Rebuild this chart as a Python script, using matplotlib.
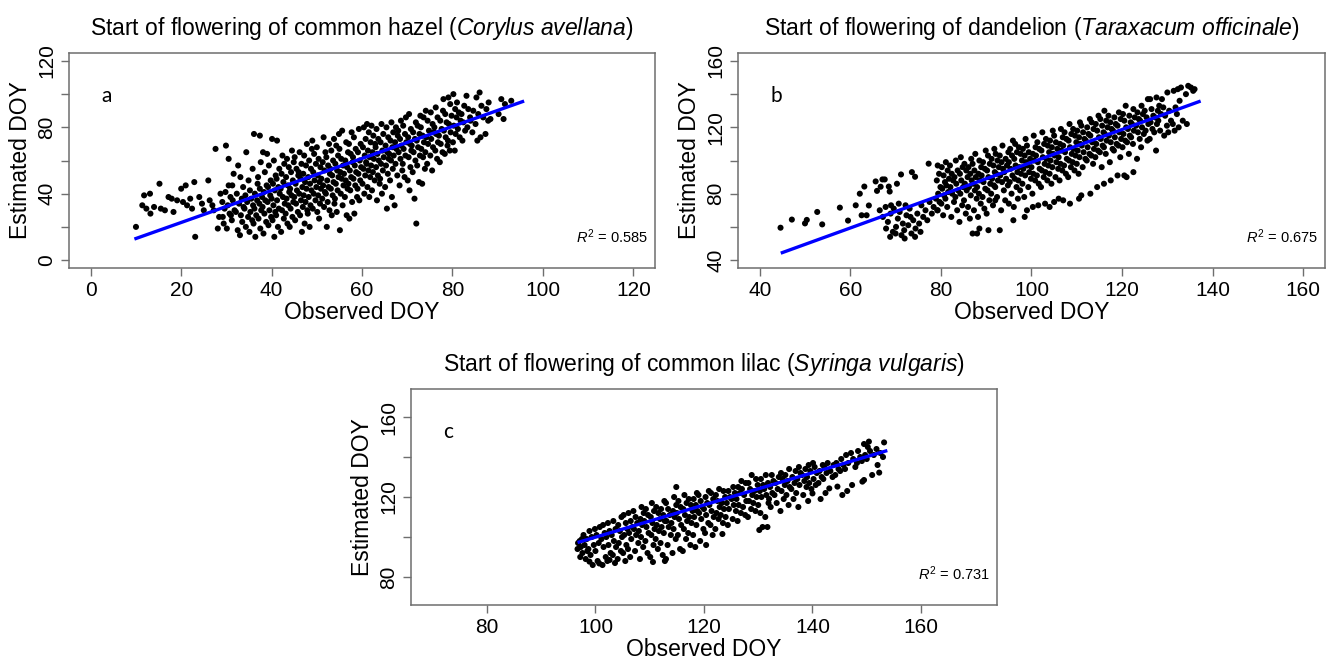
import numpy as np
import matplotlib.pyplot as plt

plt.rcParams['font.family'] = ['Liberation Sans', 'DejaVu Sans']
plt.rcParams['mathtext.fontset'] = 'custom'
plt.rcParams['mathtext.rm'] = 'Liberation Sans'
plt.rcParams['mathtext.it'] = 'Liberation Sans:italic'

# === Data (observed DOY, estimated DOY) ===
hazel_pts = [
    (10,20),(11.4,33),(11.8,39),(12.3,31),(13.1,40),(13.2,28),(14.0,32),(15.2,46),(15.5,31),(16.4,30),
    (17.2,38),(17.9,37),(18.3,29),(19.1,36),(20.0,43),(20.4,35),(21.0,45),(21.3,33),(22.0,37),(22.4,31),
    (22.9,47),(23.1,14),(24.0,38),(24.6,34),(25.0,30),(26.0,48),(26.3,36),(26.9,33),(27.2,30),(27.6,67),
    (28.1,19),(28.4,26),(28.7,40),(29.9,69),(30.5,61),(37.4,75),(39.0,64),(41.2,72),
    (29.2,26),(29.6,31),(29.1,35),(29.8,41),(29.4,22),
    (30.1,19),(30.7,28),(30.3,33),(30.9,38),(30.5,45),
    (31.2,24),(31.8,30),(31.4,36),(31.0,27),(31.6,52),(31.3,45),
    (32.5,18),(32.1,29),(32.8,34),(32.3,40),(32.6,57),
    (33.0,15),(33.5,23),(33.2,27),(33.8,32),(33.4,37),(33.7,44),(33.1,50),
    (34.3,20),(34.8,26),(34.0,31),(34.6,35),(34.2,39),(34.9,48),(34.4,65),
    (35.1,17),(35.7,24),(35.3,29),(35.9,33),(35.5,37),(35.2,42),(35.8,55),
    (36.4,14),(36.0,22),(36.6,27),(36.2,31),(36.8,36),(36.3,40),(36.9,46),(36.1,76),
    (37.5,19),(37.1,25),(37.7,30),(37.3,34),(37.9,38),(37.4,43),(37.0,50),(37.6,59),
    (38.2,16),(38.8,23),(38.4,28),(38.0,32),(38.6,36),(38.3,41),(38.9,45),(38.5,53),(38.1,65),
    (39.3,21),(39.9,26),(39.5,30),(39.1,35),(39.7,39),(39.2,44),(39.8,48),(39.4,57),
    (40.6,14),(40.2,24),(40.8,29),(40.4,33),(40.0,37),(40.7,42),(40.3,46),(40.9,51),(40.5,60),(40.1,73),
    (41.4,20),(41.0,27),(41.6,31),(41.2,36),(41.8,40),(41.5,44),(41.1,49),(41.7,55),
    (42.1,17),(42.7,25),(42.3,30),(42.9,34),(42.5,38),(42.0,43),(42.6,47),(42.2,52),(42.8,58),(42.4,63),
    (43.5,22),(43.1,28),(43.7,33),(43.3,37),(43.9,41),(43.6,45),(43.2,50),(43.8,56),(43.4,61),
    (44.0,20),(44.6,26),(44.2,31),(44.8,35),(44.4,39),(44.1,43),(44.7,48),(44.3,53),(44.9,59),(44.5,66),
    (45.2,24),(45.8,29),(45.4,34),(45.0,38),(45.6,42),(45.3,46),(45.9,51),(45.5,55),(45.1,62),
    (46.7,17),(46.3,27),(46.9,32),(46.5,36),(46.1,40),(46.8,44),(46.4,49),(46.0,53),(46.6,58),(46.2,65),
    (47.3,22),(47.9,30),(47.5,35),(47.1,39),(47.7,43),(47.4,47),(47.0,52),(47.6,57),(47.2,63),(47.8,70),
    (48.4,20),(48.0,28),(48.6,33),(48.2,38),(48.8,42),(48.5,46),(48.1,50),(48.7,55),(48.3,60),(48.9,67),
    (49.1,31),(49.7,36),(49.3,40),(49.9,44),(49.5,48),(49.2,53),(49.8,58),(49.4,64),(49.0,72),
    (50.5,25),(50.1,29),(50.7,34),(50.3,39),(50.9,43),(50.6,47),(50.2,51),(50.8,56),(50.4,61),(50.0,68),
    (51.6,32),(51.2,37),(51.8,41),(51.4,45),(51.0,49),(51.7,54),(51.3,59),(51.9,65),(51.5,74),
    (52.2,20),(52.8,30),(52.4,35),(52.0,40),(52.6,44),(52.3,48),(52.9,52),(52.5,57),(52.1,62),(52.7,70),
    (53.3,27),(53.9,34),(53.5,39),(53.1,43),(53.7,47),(53.4,51),(53.0,55),(53.6,60),(53.2,66),(53.8,73),
    (54.4,29),(54.0,37),(54.6,42),(54.2,46),(54.8,50),(54.5,54),(54.1,58),(54.7,63),(54.3,69),(54.9,76),
    (55.1,18),(55.7,33),(55.3,40),(55.9,45),(55.5,49),(55.2,53),(55.8,57),(55.4,61),(55.0,67),(55.6,78),
    (56.6,27),(56.2,38),(56.8,43),(56.4,48),(56.0,52),(56.7,56),(56.3,60),(56.9,65),(56.5,71),
    (57.2,25),(57.8,35),(57.4,42),(57.0,46),(57.6,50),(57.3,54),(57.9,59),(57.5,64),(57.1,70),(57.7,77),
    (58.3,28),(58.9,38),(58.5,45),(58.1,49),(58.7,53),(58.4,57),(58.0,62),(58.6,67),(58.2,74),
    (59.4,36),(59.0,43),(59.6,48),(59.2,52),(59.8,56),(59.5,60),(59.1,65),(59.7,70),(59.3,79),
    (60.5,40),(60.1,46),(60.7,51),(60.3,55),(60.9,59),(60.6,63),(60.2,68),(60.8,73),(60.4,80),
    (61.6,38),(61.2,44),(61.8,50),(61.4,54),(61.0,58),(61.7,62),(61.3,66),(61.9,71),(61.5,77),(61.1,82),
    (62.2,42),(62.8,48),(62.4,53),(62.0,57),(62.6,61),(62.3,65),(62.9,70),(62.5,75),(62.1,81),
    (63.3,36),(63.9,46),(63.5,51),(63.1,56),(63.7,60),(63.4,64),(63.0,68),(63.6,73),(63.2,79),
    (64.4,40),(64.0,49),(64.6,54),(64.2,58),(64.8,62),(64.5,66),(64.1,71),(64.7,76),(64.3,82),
    (65.5,31),(65.1,44),(65.7,52),(65.3,57),(65.9,61),(65.6,65),(65.2,69),(65.8,74),(65.4,80),
    (66.6,38),(66.2,48),(66.8,55),(66.4,60),(66.0,64),(66.7,68),(66.3,72),(66.9,77),(66.5,83),
    (67.2,33),(67.8,51),(67.4,58),(67.0,63),(67.6,67),(67.3,71),(67.9,75),(67.5,80),
    (68.3,45),(68.9,54),(68.5,61),(68.1,65),(68.7,69),(68.4,73),(68.0,78),(68.6,84),
    (69.4,50),(69.0,58),(69.6,63),(69.2,67),(69.8,71),(69.5,76),(69.1,81),(69.7,86),
    (70.5,42),(70.1,48),(70.7,56),(70.3,62),(70.9,66),(70.6,70),(70.2,74),(70.8,79),(70.4,88),
    (71.6,37),(71.2,53),(71.8,60),(71.4,65),(71.0,69),(71.7,73),(71.3,77),(71.9,83),
    (72.0,22),(72.6,47),(72.2,57),(72.8,63),(72.4,68),(72.1,72),(72.7,76),(72.3,81),(72.9,87),
    (73.3,46),(73.9,55),(73.5,62),(73.1,67),(73.7,71),(73.4,75),(73.0,80),(73.6,86),
    (74.4,58),(74.0,65),(74.6,70),(74.2,74),(74.8,78),(74.5,84),(74.1,90),
    (75.5,54),(75.1,63),(75.7,68),(75.3,73),(75.9,77),(75.6,82),(75.2,89),
    (76.6,61),(76.2,66),(76.8,71),(76.4,76),(76.0,80),(76.7,86),(76.3,92),
    (77.2,59),(77.8,65),(77.4,70),(77.0,75),(77.6,79),(77.3,84),(77.9,90),
    (78.3,64),(78.9,69),(78.5,74),(78.1,78),(78.7,83),(78.4,88),(78.0,97),
    (79.4,66),(79.0,72),(79.6,77),(79.2,82),(79.8,87),(79.5,94),(79.1,98),
    (80.5,66),(80.1,71),(80.7,76),(80.3,81),(80.9,86),(80.6,91),(80.2,100),
    (81.6,74),(81.2,79),(81.8,84),(81.4,89),(81.0,95),
    (82.2,72),(82.8,78),(82.4,83),(82.0,88),(82.6,93),
    (83.3,80),(83.9,86),(83.5,91),(83.1,99),
    (84.4,77),(84.0,84),(84.6,90),
    (85.5,72),(85.1,82),(85.7,88),(85.3,98),
    (86.2,74),(86.8,86),(86.4,93),(86.0,101),
    (87.3,76),(87.9,84),(87.5,91),
    (88.4,85),(88.0,95),(90.2,88),(90.8,97),(91.3,85),(91.6,94),(93.0,96),
]
hazel_fit_x = [10, 95.5]
hazel_fit_y = [13, 95.5]

dandelion_pts = [
    (44.6,59.5),(47.1,64.4),(50.0,62.1),(50.4,64.2),(52.7,69),(53.8,61.5),(57.7,71.6),(59.5,63.8),
    (61.2,73),(62.1,80),(63.1,84.3),(62.5,67),(63.6,67),(64.1,72.9),(65.6,87.4),(67.1,88.6),(67.6,88.6),
    (66.7,84.2),(65.9,81.7),(68.5,84.3),(68.7,81.3),(70.3,86),(71.2,91.6),(73.6,93),(74.3,90.2),
    (77.3,98.1),(68.8,54),(74.3,54),
    (66.5,70),(67.2,66),(67.8,72),(68.3,63),(68.9,68),(69.4,57),(69.6,71),(70.1,60),(70.5,65),(70.9,69),
    (71.3,55),(71.6,62),(71.9,58),(72.4,67),(72.8,61),(73.1,71),(73.5,56),(73.9,64),(74.4,59),(74.8,68),
    (75.2,62),(75.7,73),(76.1,66),(76.6,70),(77.0,64),(77.5,75),(78.0,68),(78.4,72),(78.9,77),(79.3,70),
    (69.0,73),(70.7,74),(72.2,73),(67.9,59),(70.0,56),(72.0,53),(73.3,66),(75.5,57),
    (87,56),(88,56),(88.5,59),(90.5,58),(93,58),(96,64),(98.5,66),(99,70),(100.3,72),(101.5,73),
    (103,74),(105,75),(107,76),(108.5,74),(110.5,77),(111,79),(113,80),(114.5,84),(116,86),(117.5,88),
    (119,91),(120.5,91),(122.5,93),(121,90),(104,72),(106,77),(97,77),(95,74),(92,76),
    (79.2,70),(79.7,75),(79.4,80),(79.9,84),(79.1,88),(79.6,92),(79.3,97),
    (80.5,67),(80.1,74),(80.7,79),(80.3,83),(80.9,87),(80.6,91),(80.2,96),
    (81.4,72),(81.0,77),(81.6,81),(81.2,85),(81.8,89),(81.5,94),(81.1,99),
    (82.3,66),(82.9,75),(82.5,80),(82.1,84),(82.7,88),(82.4,92),(82.0,97),
    (83.6,70),(83.2,78),(83.8,82),(83.4,86),(83.0,90),(83.7,94),(83.3,100),
    (84.1,63),(84.7,73),(84.3,80),(84.9,84),(84.5,88),(84.2,92),(84.8,96),(84.4,102),
    (85.5,68),(85.1,76),(85.7,82),(85.3,86),(85.9,90),(85.6,94),(85.2,98),
    (86.4,65),(86.0,72),(86.6,79),(86.2,84),(86.8,88),(86.5,92),(86.1,96),(86.7,101),
    (87.3,70),(87.9,77),(87.5,82),(87.1,86),(87.7,90),(87.4,94),(87.0,98),(87.6,104),
    (88.2,66),(88.8,74),(88.4,80),(88.0,84),(88.6,88),(88.3,92),(88.9,96),(88.5,100),
    (89.6,71),(89.2,78),(89.8,83),(89.4,87),(89.0,91),(89.7,95),(89.3,99),(89.9,106),
    (90.1,68),(90.7,76),(90.3,82),(90.9,86),(90.5,90),(90.2,94),(90.8,98),(90.4,103),
    (91.5,73),(91.1,80),(91.7,85),(91.3,89),(91.9,93),(91.6,97),(91.2,101),(91.8,107),
    (92.4,78),(92.0,84),(92.6,88),(92.2,92),(92.8,96),(92.5,100),(92.1,104),
    (93.3,70),(93.9,82),(93.5,87),(93.1,91),(93.7,95),(93.4,99),(93.0,103),(93.6,109),
    (94.2,76),(94.8,85),(94.4,89),(94.0,93),(94.6,97),(94.3,101),(94.9,105),
    (95.6,80),(95.2,87),(95.8,91),(95.4,95),(95.0,99),(95.7,103),(95.3,107),(95.9,112),
    (96.1,72),(96.7,84),(96.3,89),(96.9,93),(96.5,97),(96.2,101),(96.8,105),(96.4,110),
    (97.5,82),(97.1,88),(97.7,92),(97.3,96),(97.9,100),(97.6,104),(97.2,108),
    (98.4,78),(98.0,86),(98.6,91),(98.2,95),(98.8,99),(98.5,103),(98.1,107),(98.7,113),
    (99.3,84),(99.9,89),(99.5,93),(99.1,97),(99.7,101),(99.4,105),(99.0,109),
    (100.2,80),(100.8,88),(100.4,92),(100.0,96),(100.6,100),(100.3,104),(100.9,108),(100.5,115),
    (101.6,86),(101.2,91),(101.8,95),(101.4,99),(101.0,103),(101.7,107),(101.3,111),
    (102.1,84),(102.7,90),(102.3,94),(102.9,98),(102.5,102),(102.2,106),(102.8,110),(102.4,117),
    (103.5,88),(103.1,93),(103.7,97),(103.3,101),(103.9,105),(103.6,109),(103.2,113),
    (104.4,86),(104.0,92),(104.6,96),(104.2,100),(104.8,104),(104.5,108),(104.1,112),(104.7,118),
    (105.3,90),(105.9,95),(105.5,99),(105.1,103),(105.7,107),(105.4,111),(105.0,115),
    (106.2,88),(106.8,94),(106.4,98),(106.0,102),(106.6,106),(106.3,110),(106.9,114),(106.5,119),
    (107.6,92),(107.2,97),(107.8,101),(107.4,105),(107.0,109),(107.7,113),(107.3,117),
    (108.1,90),(108.7,96),(108.3,100),(108.9,104),(108.5,108),(108.2,112),(108.8,116),(108.4,122),
    (109.5,94),(109.1,99),(109.7,103),(109.3,107),(109.9,111),(109.6,115),(109.2,119),
    (110.4,92),(110.0,98),(110.6,102),(110.2,106),(110.8,110),(110.5,114),(110.1,118),(110.7,123),
    (111.3,96),(111.9,101),(111.5,105),(111.1,109),(111.7,113),(111.4,117),(111.0,121),
    (112.2,100),(112.8,104),(112.4,108),(112.0,112),(112.6,116),(112.3,120),(112.9,125),
    (113.6,98),(113.2,103),(113.8,107),(113.4,111),(113.0,115),(113.7,119),(113.3,123),
    (114.1,102),(114.7,106),(114.3,110),(114.9,114),(114.5,118),(114.2,122),(114.8,127),
    (115.5,96),(115.1,105),(115.7,109),(115.3,113),(115.9,117),(115.6,121),(115.2,125),
    (116.4,104),(116.0,108),(116.6,112),(116.2,116),(116.8,120),(116.5,124),(116.1,130),
    (117.3,99),(117.9,107),(117.5,111),(117.1,115),(117.7,119),(117.4,123),(117.0,127),
    (118.2,106),(118.8,110),(118.4,114),(118.0,118),(118.6,122),(118.3,126),
    (119.6,102),(119.2,109),(119.8,113),(119.4,117),(119.0,121),(119.7,125),(119.3,129),
    (120.1,108),(120.7,112),(120.3,116),(120.9,120),(120.5,124),(120.2,128),(120.8,133),
    (121.5,104),(121.1,111),(121.7,115),(121.3,119),(121.9,123),(121.6,127),
    (122.4,110),(122.0,114),(122.6,118),(122.2,122),(122.8,126),(122.5,131),
    (123.3,101),(123.9,113),(123.5,117),(123.1,121),(123.7,125),(123.4,129),
    (124.2,108),(124.8,116),(124.4,120),(124.0,124),(124.6,128),(124.3,133),
    (125.6,112),(125.2,118),(125.8,122),(125.4,126),(125.0,130),(125.7,137),
    (126.1,113),(126.7,119),(126.3,123),(126.9,127),(126.5,131),(126.2,137),
    (127.5,106),(127.1,117),(127.7,122),(127.3,126),(127.9,130),(127.6,138),
    (128.4,118),(128.0,124),(128.6,128),(128.2,133),(128.8,137),
    (129.3,115),(129.9,121),(129.5,127),(129.1,132),
    (130.2,117),(130.8,124),(130.4,130),(130.0,141),
    (131.6,118),(131.2,122),(131.8,132),(131.4,142),
    (132.5,120),(132.1,128),(132.7,136),(132.3,143),
    (133.4,124),(133.0,144),(134.3,122),(134.6,145),(134.1,140),(135.2,144),(135.7,142),(136.0,143),
]
dandelion_fit_x = [45, 137]
dandelion_fit_y = [44.5, 135.5]

lilac_pts = [
    (96.7,94),(97.6,92),(98.9,87.7),(100.7,86.8),(102.6,88.5),(97.2,90),(98.0,96),(97.5,99),(96.8,97),
    (98.5,93),(110.6,87.5),(112.8,88),
    (97.3,95),(97.8,101),(97.1,98),
    (98.2,89),(98.7,94),(98.4,99),(98.9,103),
    (99.5,86),(99.1,91),(99.7,96),(99.3,100),(99.9,104),
    (100.4,88),(100.0,93),(100.6,97),(100.2,101),(100.8,105),
    (101.3,86),(101.9,90),(101.5,95),(101.1,99),(101.7,102),(101.4,106),
    (102.2,88),(102.8,92),(102.4,96),(102.0,100),(102.6,103),(102.3,107),
    (103.6,87),(103.2,91),(103.8,95),(103.4,98),(103.0,101),(103.7,104),(103.3,108),
    (104.1,89),(104.7,93),(104.3,97),(104.9,100),(104.5,103),(104.2,106),(104.8,110),
    (105.5,88),(105.1,92),(105.7,96),(105.3,101),(105.9,104),(105.6,107),(105.2,111),
    (106.4,90),(106.0,94),(106.6,99),(106.2,102),(106.8,105),(106.5,108),(106.1,112),
    (107.3,93),(107.9,97),(107.5,101),(107.1,104),(107.7,107),(107.4,110),(107.0,113),
    (108.2,89),(108.8,95),(108.4,100),(108.0,103),(108.6,106),(108.3,109),(108.9,112),(108.5,115),
    (109.6,92),(109.2,98),(109.8,102),(109.4,105),(109.0,108),(109.7,111),(109.3,114),
    (110.1,90),(110.7,96),(110.3,101),(110.9,104),(110.5,107),(110.2,110),(110.8,113),(110.4,117),
    (111.5,94),(111.1,99),(111.7,103),(111.3,106),(111.9,109),(111.6,112),(111.2,115),
    (112.4,91),(112.0,97),(112.6,102),(112.2,105),(112.8,108),(112.5,111),(112.1,114),(112.7,118),
    (113.0,89),(113.3,96),(113.9,101),(113.5,105),(113.1,108),(113.7,111),(113.4,114),(113.0,117),
    (114.2,92),(114.8,99),(114.4,104),(114.0,107),(114.6,110),(114.3,113),(114.9,116),(114.5,120),
    (115.6,94),(115.2,101),(115.8,106),(115.4,109),(115.0,112),(115.7,115),(115.3,118),(114.9,125),
    (116.1,93),(116.7,99),(116.3,104),(116.9,108),(116.5,111),(116.2,114),(116.8,117),(116.4,121),
    (117.5,96),(117.1,102),(117.7,107),(117.3,110),(117.9,113),(117.6,116),(117.2,119),
    (118.4,95),(118.0,101),(118.6,106),(118.2,110),(118.8,113),(118.5,116),(118.1,119),(118.7,122),
    (119.3,98),(119.9,104),(119.5,109),(119.1,112),(119.7,115),(119.4,118),(119.0,121),
    (120.4,96),(120.2,102),(120.8,107),(120.4,111),(120.0,114),(120.6,117),(120.3,120),(120.9,123),
    (121.6,101),(121.2,106),(121.8,110),(121.4,113),(121.0,116),(121.7,119),(121.3,122),
    (122.1,104),(122.7,109),(122.3,112),(122.9,115),(122.5,118),(122.2,121),(122.8,124),
    (123.4,101.5),(123.5,107),(123.1,111),(123.7,114),(123.3,117),(123.9,120),(123.6,123),
    (124.4,106),(124.0,110),(124.6,114),(124.2,117),(124.8,120),(124.5,123),
    (125.3,109),(125.9,113),(125.5,116),(125.1,119),(125.7,122),(125.4,125),
    (126.2,108),(126.8,112),(126.4,116),(126.0,119),(126.6,122),(126.3,125),(126.9,128),
    (127.6,111),(127.2,115),(127.8,118),(127.4,121),(127.0,124),(127.7,127),
    (128.1,110),(128.7,114),(128.3,118),(128.9,121),(128.5,124),(128.2,127),(128.8,131),
    (129.5,113),(129.1,117),(129.7,120),(129.3,123),(129.9,126),(129.6,129),
    (130.2,103.5),(130.8,105),(130.4,112),(130.0,116),(130.6,120),(130.3,123),(130.9,126),(130.5,129),
    (131.7,105),(131.3,110),(131.9,117),(131.5,121),(131.1,124),(131.8,127),(131.4,131),
    (132.3,115),(132.0,119),(132.6,122),(132.2,125),(132.8,128),(132.5,131),
    (133.4,117),(133.0,121),(133.6,124),(133.2,127),(133.8,130),
    (134.1,113),(134.7,119),(134.3,123),(134.9,126),(134.5,129),(134.2,132),
    (135.6,116),(135.2,121),(135.8,125),(135.4,128),(135.0,131),(135.7,134),
    (136.5,119),(136.1,124),(136.7,127),(136.3,130),(136.9,133),
    (137.4,115),(137.0,122),(137.6,126),(137.2,129),(137.8,132),(137.5,135),
    (138.3,121),(138.9,125),(138.5,128),(138.1,131),(138.7,134),
    (139.2,118),(139.8,124),(139.4,127),(139.0,130),(139.6,133),(139.3,136),
    (140.0,121.8),(140.6,126),(140.2,129),(140.8,132),(140.4,135),(140.1,137),
    (141.5,119),(141.1,127),(141.7,130),(141.3,133),(141.9,136),
    (142.4,122),(142.0,129),(142.6,132),(142.2,135),(142.8,137),
    (143.1,124.3),(143.7,130),(143.3,133),(143.9,136),
    (144.6,125.2),(144.2,131),(144.8,134),(144.4,137),
    (145.5,121),(145.1,133),(145.7,136),(145.3,139),
    (146.4,123),(146.0,134),(146.6,137),(146.2,141),
    (147.3,126),(147.9,135),(147.5,139),(147.1,142),
    (148.2,137),(148.8,140),(148.4,143),
    (149.2,127.7),(149.5,128.5),(149.1,138),(149.7,141),(149.5,146.5),
    (150.4,147.7),(150.0,139),(150.6,143),(150.2,145),
    (151.0,131),(151.3,141),(151.8,144),
    (152.3,132.2),(152.0,136),(152.5,142),
    (153.2,147.3),(153.0,140),
]
lilac_fit_x = [97, 153.5]
lilac_fit_y = [97.5, 143]

fig = plt.figure(figsize=(13.33, 6.6), dpi=100)
edge = '#6e6e6e'


def draw_panel(rect, pts, fit_x, fit_y, lim, ticks, labelled, title, letter, r2):
    ax = fig.add_axes(rect)
    pts = np.array(pts)
    ax.scatter(pts[:, 0], pts[:, 1], s=19, c='black', edgecolors='none', zorder=2)
    ax.plot(fit_x, fit_y, color='#0000ff', lw=2.4, zorder=3)
    pad = (lim[1] - lim[0]) * 0.04
    ax.set_xlim(lim[0] - pad, lim[1] + pad)
    ax.set_ylim(lim[0] - pad, lim[1] + pad)
    ax.set_xticks(ticks)
    ax.set_xticklabels([str(t) for t in ticks])
    ax.set_yticks(ticks)
    ax.set_yticklabels([str(t) if t in labelled else '' for t in ticks],
                       rotation=90, va='center')
    ax.tick_params(length=6, width=1, color=edge, labelsize=15, pad=3)
    for sp in ax.spines.values():
        sp.set_color(edge)
        sp.set_linewidth(1.1)
    ax.set_xlabel('Observed DOY', fontsize=16.5, labelpad=1)
    ax.set_ylabel('Estimated DOY', fontsize=16.5, labelpad=4)
    ax.set_title(title, fontsize=16.5, pad=13)
    ax.text(0.055, 0.80, letter, transform=ax.transAxes, fontsize=15,
            family=['Lato', 'DejaVu Sans'], va='center')
    ax.text(0.988, 0.145, r'$R^2$' + ' = ' + r2, transform=ax.transAxes,
            fontsize=10.5, ha='right', va='center')
    return ax


draw_panel([0.0518, 0.5939, 0.4396, 0.3258], hazel_pts, hazel_fit_x, hazel_fit_y,
           (0, 120), [0, 20, 40, 60, 80, 100, 120], [0, 40, 80, 120],
           r'Start of flowering of common hazel $\mathit{(Corylus\ avellana)}$', 'a', '0.585')
draw_panel([0.5536, 0.5939, 0.4404, 0.3258], dandelion_pts, dandelion_fit_x, dandelion_fit_y,
           (40, 160), [40, 60, 80, 100, 120, 140, 160], [40, 80, 120, 160],
           r'Start of flowering of dandelion $\mathit{(Taraxacum\ officinale)}$', 'b', '0.675')
draw_panel([0.3083, 0.0833, 0.4396, 0.3273], lilac_pts, lilac_fit_x, lilac_fit_y,
           (70, 170), [80, 100, 120, 140, 160], [80, 120, 160],
           r'Start of flowering of common lilac $\mathit{(Syringa\ vulgaris)}$', 'c', '0.731')

plt.savefig('out.png', dpi=100)
